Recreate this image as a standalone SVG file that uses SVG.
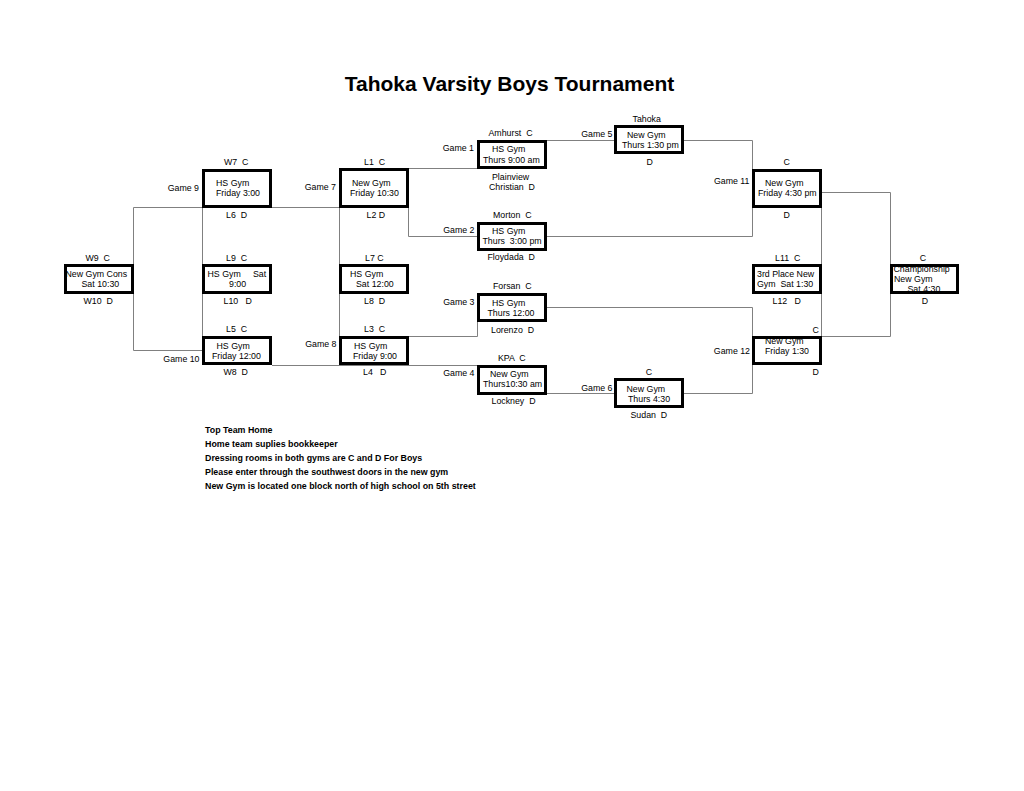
<svg xmlns="http://www.w3.org/2000/svg" width="1024" height="791" viewBox="0 0 1024 791">
<style>
text{font-family:"Liberation Sans",Arial,sans-serif;font-size:8.8px;fill:#000;white-space:pre}
.title{font-size:21px;font-weight:bold;text-anchor:middle}
.note{font-size:8.85px;font-weight:bold}
.c{text-anchor:middle}
.e{text-anchor:end}
.box{fill:#fff;stroke:#000;stroke-width:3}
.con{fill:none;stroke:#808080;stroke-width:1}
</style>
<rect width="1024" height="791" fill="#fff"/>
<text class="title" x="509.5" y="91">Tahoka Varsity Boys Tournament</text>

<g id="connectors">
<path class="con" d="M547,140.5 H614"/>
<path class="con" d="M684,140.5 H752.5 V236.5 H547"/>
<path class="con" d="M409,168.5 H477"/>
<path class="con" d="M408.5,208 V236.5 H477"/>
<path class="con" d="M133.5,207.5 H339"/>
<path class="con" d="M133.5,207.5 V350.5 H202"/>
<path class="con" d="M202.5,208 V336"/>
<path class="con" d="M339.5,208 V336"/>
<path class="con" d="M272,365.5 H477"/>
<path class="con" d="M409,336.5 H477.5 V322"/>
<path class="con" d="M547,307.5 H752.5 V393.5 H684"/>
<path class="con" d="M547,393.5 H614"/>
<path class="con" d="M822,192.5 H890.5 V336.5 H822"/>
<path class="con" d="M821.5,208 V336"/>
</g>

<g id="game9">
<rect class="box" x="203.5" y="170.5" width="67" height="36"/>
<text class="e" x="199" y="191">Game 9</text>
<text x="224" y="165">W7  C</text>
<text x="216" y="186">HS Gym</text>
<text x="216" y="196">Friday 3:00</text>
<text x="226" y="218">L6  D</text>
</g>

<g id="game7">
<rect class="box" x="340.5" y="169.5" width="67" height="37"/>
<text class="e" x="336" y="190">Game 7</text>
<text x="364" y="165">L1  C</text>
<text x="352" y="186">New Gym</text>
<text x="350" y="196">Friday 10:30</text>
<text x="366.5" y="217.5">L2 D</text>
</g>

<g id="game1">
<rect class="box" x="478.5" y="141.5" width="67" height="26"/>
<text class="e" x="474" y="151">Game 1</text>
<text x="488.5" y="136">Amhurst  C</text>
<text x="492" y="152">HS Gym</text>
<text x="483" y="162.5">Thurs 9:00 am</text>
<text x="492" y="180">Plainview</text>
<text x="489" y="190">Christian  D</text>
</g>

<g id="game2">
<rect class="box" x="478.5" y="223.5" width="67" height="26"/>
<text class="e" x="474.5" y="232.5">Game 2</text>
<text x="493" y="218">Morton  C</text>
<text x="492" y="234">HS Gym</text>
<text x="482.5" y="244">Thurs  3:00 pm</text>
<text x="487.5" y="260">Floydada  D</text>
</g>

<g id="game5">
<rect class="box" x="615.5" y="126.5" width="67" height="26"/>
<text class="e" x="612.5" y="137">Game 5</text>
<text x="632.5" y="122">Tahoka</text>
<text x="627" y="138">New Gym</text>
<text x="622" y="148">Thurs 1:30 pm</text>
<text class="c" x="649.7" y="165">D</text>
</g>

<g id="game11">
<rect class="box" x="753.5" y="170.5" width="67" height="36"/>
<text class="e" x="749.5" y="184">Game 11</text>
<text class="c" x="786.7" y="165">C</text>
<text x="765" y="186">New Gym</text>
<text x="758" y="196">Friday 4:30 pm</text>
<text class="c" x="786.7" y="217.5">D</text>
</g>

<g id="championship">
<rect class="box" x="891.5" y="265.5" width="66" height="27"/>
<text class="c" x="923" y="260.5">C</text>
<text x="893.5" y="272">Championship</text>
<text x="894" y="282">New Gym</text>
<text x="907.5" y="292">Sat 4:30</text>
<text class="c" x="925" y="303.5">D</text>
</g>

<g id="third-place">
<rect class="box" x="753.5" y="265.5" width="67" height="27"/>
<text x="775" y="260.5">L11  C</text>
<text x="757" y="277">3rd Place New</text>
<text x="757" y="287">Gym  Sat 1:30</text>
<text x="772.5" y="303.5">L12   D</text>
</g>

<g id="consolation">
<rect class="box" x="65.5" y="265.5" width="67" height="27"/>
<text x="85.5" y="260.5">W9  C</text>
<text x="65.5" y="277">New Gym Cons</text>
<text x="81.5" y="287">Sat 10:30</text>
<text x="83.5" y="304">W10  D</text>
</g>

<g id="l9-game">
<rect class="box" x="203.5" y="265.5" width="67" height="27"/>
<text x="226" y="260.5">L9  C</text>
<text x="207.5" y="277">HS Gym     Sat</text>
<text x="229" y="287">9:00</text>
<text x="223.5" y="303.5">L10   D</text>
</g>

<g id="game10">
<rect class="box" x="203.5" y="337.5" width="67" height="26"/>
<text class="e" x="199.5" y="361.5">Game 10</text>
<text x="226" y="332">L5  C</text>
<text x="216.5" y="349">HS Gym</text>
<text x="212" y="359">Friday 12:00</text>
<text x="223.5" y="375">W8  D</text>
</g>

<g id="l7-game">
<rect class="box" x="340.5" y="265.5" width="67" height="27"/>
<text x="365" y="260.5">L7 C</text>
<text x="350" y="277">HS Gym</text>
<text x="356" y="287">Sat 12:00</text>
<text x="364" y="303.5">L8  D</text>
</g>

<g id="game8">
<rect class="box" x="340.5" y="337.5" width="67" height="26"/>
<text class="e" x="336.5" y="347">Game 8</text>
<text x="364" y="332">L3  C</text>
<text x="354" y="349">HS Gym</text>
<text x="353" y="359">Friday 9:00</text>
<text x="363" y="375">L4   D</text>
</g>

<g id="game3">
<rect class="box" x="478.5" y="294.5" width="67" height="26"/>
<text class="e" x="474.5" y="305">Game 3</text>
<text x="493" y="289">Forsan  C</text>
<text x="492" y="306">HS Gym</text>
<text x="487.5" y="316">Thurs 12:00</text>
<text x="491" y="332.5">Lorenzo  D</text>
</g>

<g id="game4">
<rect class="box" x="478.5" y="366.5" width="67" height="27"/>
<text class="e" x="474.5" y="375.5">Game 4</text>
<text x="498" y="360.5">KPA  C</text>
<text x="490" y="377">New Gym</text>
<text x="483" y="387">Thurs10:30 am</text>
<text x="491.5" y="404">Lockney  D</text>
</g>

<g id="game6">
<rect class="box" x="615.5" y="379.5" width="67" height="27"/>
<text class="e" x="612.5" y="390.5">Game 6</text>
<text class="c" x="649" y="375">C</text>
<text x="626.5" y="391.5">New Gym</text>
<text x="628" y="401.5">Thurs 4:30</text>
<text x="630.5" y="418">Sudan  D</text>
</g>

<g id="game12">
<rect class="box" x="753.5" y="337.5" width="67" height="26"/>
<text class="e" x="750" y="354">Game 12</text>
<text class="c" x="815.7" y="332.5">C</text>
<text x="765" y="344">New Gym</text>
<text x="765" y="354">Friday 1:30</text>
<text class="c" x="815.7" y="375">D</text>
</g>

<g id="notes">
<text class="note" x="205" y="433">Top Team Home</text>
<text class="note" x="205" y="447">Home team suplies bookkeeper</text>
<text class="note" x="205" y="461">Dressing rooms in both gyms are C and D For Boys</text>
<text class="note" x="205" y="475">Please enter through the southwest doors in the new gym</text>
<text class="note" x="205" y="489">New Gym is located one block north of high school on 5th street</text>
</g>
</svg>
